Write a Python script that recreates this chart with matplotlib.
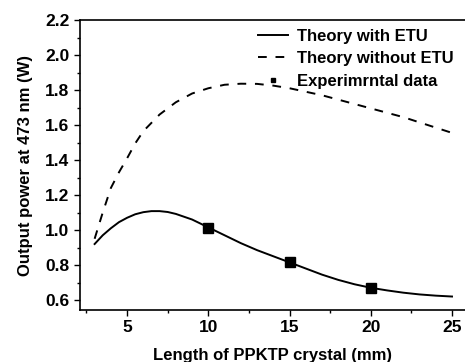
import matplotlib.pyplot as plt
import numpy as np
from matplotlib.ticker import MultipleLocator

plt.rcParams['font.family'] = ['Liberation Sans', 'DejaVu Sans']
plt.rcParams['font.weight'] = 'bold'

# theory with ETU (solid)
len_etu = [3, 3.5, 4, 4.5, 5, 5.5, 6, 6.5, 7, 7.5, 8, 9, 10, 11, 12, 13, 14, 15,
           16, 17, 18, 19, 20, 21, 22, 23, 24, 25]
pow_etu = [0.92, 0.97, 1.01, 1.045, 1.07, 1.09, 1.102, 1.108, 1.108, 1.103, 1.092,
           1.06, 1.015, 0.97, 0.925, 0.885, 0.85, 0.815, 0.78, 0.745, 0.715, 0.69,
           0.67, 0.655, 0.642, 0.632, 0.625, 0.62]

# theory without ETU (dashed)
len_no = [3, 3.5, 4, 4.5, 5, 5.5, 6, 7, 8, 9, 10, 11, 12, 13, 14, 15, 16, 17,
          18, 19, 20, 21, 22, 23, 24, 25]
pow_no = [0.95, 1.10, 1.24, 1.33, 1.41, 1.495, 1.565, 1.66, 1.73, 1.78, 1.81, 1.83,
          1.836, 1.835, 1.825, 1.81, 1.79, 1.77, 1.745, 1.72, 1.695, 1.67, 1.645,
          1.615, 1.585, 1.555]

# experimental data
len_exp = [10, 15, 20]
pow_exp = [1.01, 0.82, 0.67]

fig = plt.figure(figsize=(4.65, 3.62), dpi=100)
ax = fig.add_axes([80/465, 1 - 310/362, 385/465, 290/362])

ax.plot(len_etu, pow_etu, color='black', lw=1.4, label='Theory with ETU')
ax.plot(len_no, pow_no, color='black', lw=1.4, ls=(0, (4.5, 4.5)), label='Theory without ETU')
ax.plot(len_exp, pow_exp, 's', color='black', ms=7, label='Experimrntal data')

ax.set_xlim(2.1, 25.8)
ax.set_ylim(0.543, 2.2)
ax.xaxis.set_major_locator(MultipleLocator(5))
ax.xaxis.set_minor_locator(MultipleLocator(2.5))
ax.yaxis.set_minor_locator(MultipleLocator(0.1))
ax.set_yticks(np.arange(0.6, 2.21, 0.2))
ax.tick_params(which='major', direction='out', length=4, width=1, labelsize=12.5)
ax.tick_params(which='minor', direction='out', length=2.5, width=1)
ax.spines['right'].set_visible(False)
for s in ['left', 'bottom', 'top']:
    ax.spines[s].set_linewidth(1.2)

ax.set_xlabel('Length of PPKTP crystal (mm)', fontsize=12, fontweight='bold', labelpad=9)
ax.set_ylabel('Output power at 473 nm (W)', fontsize=12, fontweight='bold', labelpad=9)

leg = ax.legend(loc='upper right', frameon=False, fontsize=12, markerscale=0.5,
                handlelength=1.8, handletextpad=0.5, labelspacing=0.45,
                borderaxespad=0.3, bbox_to_anchor=(1.0, 1.01))

fig.savefig('out.png', dpi=100)
